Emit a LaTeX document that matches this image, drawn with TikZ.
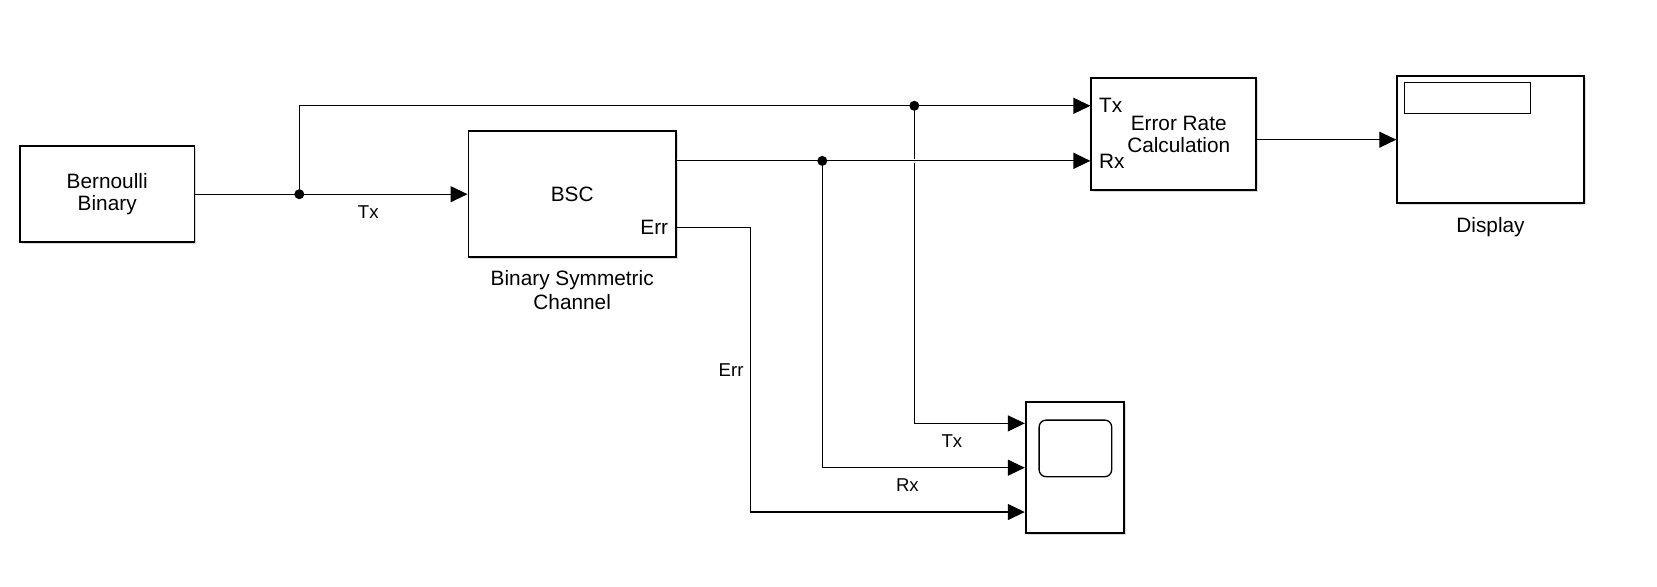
\documentclass[tikz,border=0pt]{standalone}
\usepackage{fontspec}
\setmainfont{Liberation Sans}
\usetikzlibrary{arrows.meta,calc,shadows}
\tikzset{
  blk/.style={draw,line width=0.9pt,fill=white,inner sep=0pt,
    drop shadow={shadow xshift=1pt,shadow yshift=-1pt,opacity=0.3}},
  sig/.style={line width=0.6pt,-{Triangle[length=8.5pt,width=8pt]}},
  wire/.style={line width=0.6pt},
  jdot/.style={circle,fill,inner sep=0pt,minimum size=5pt},
  port/.style={inner sep=0pt},
  lbl/.style={font=\fontsize{9.3}{11}\selectfont},
  gap/.style={draw=white,line width=2pt}
}
\begin{document}
\begin{tikzpicture}[x=0.5pt,y=-0.5pt,font=\fontsize{10.4}{11}\selectfont]
  \useasboundingbox (0,0) rectangle (1657,587);

  % blocks
  \node[blk,minimum width=87.2pt,minimum height=48.1pt,align=center] (bern) at (107.2,194.2) {Bernoulli\\Binary};
  \node[blk,minimum width=103.8pt,minimum height=63.2pt] (bsc) at (572.2,194.2) {BSC};
  \node[blk,minimum width=82.2pt,minimum height=55.9pt] (err) at (1173.5,134.2) {};
  \node[blk,minimum width=93.3pt,minimum height=63.6pt] (disp) at (1490.5,139.7) {};
  \node[blk,minimum width=49.3pt,minimum height=65.6pt] (scope) at (1075,467.7) {};
  \node[draw,line width=0.5pt,minimum width=63pt,minimum height=15.5pt] (num) at (1467.4,97.8) {};
  \node[draw,line width=0.65pt,rounded corners=3.5pt,minimum width=36.3pt,minimum height=28.3pt] (scr) at (1075.4,448.4) {};

  \node[align=center] at ([xshift=2.6pt]err.center) {Error Rate\\Calculation};
  \node[align=center,anchor=north,font=\fontsize{10.4}{12}\selectfont] at ([yshift=-2.7pt]bsc.south) {Binary Symmetric\\Channel};
  \node[anchor=north] at ([yshift=-3pt]disp.south) {Display};

  % ports
  \coordinate (bsc-out) at ($(bsc.north east)!0.24!(bsc.south east)$);
  \coordinate (bsc-err) at ($(bsc.north east)!0.76!(bsc.south east)$);
  \coordinate (err-tx) at ($(err.north west)!0.25!(err.south west)$);
  \coordinate (err-rx) at (err.west |- bsc-out);
  \foreach \i/\f in {1/0.1667,2/0.5,3/0.8333}
    \coordinate (sc-\i) at ($(scope.north west)!\f!(scope.south west)$);

  \node[port,anchor=west] at ([xshift=4.2pt]err-tx) {Tx};
  \node[port,anchor=west] at ([xshift=4.2pt]err-rx) {Rx};
  \node[port,anchor=east] at ([xshift=-4.2pt]bsc-err) {Err};

  % branch points
  \coordinate (j1) at (299.3,0 |- bern.east);
  \coordinate (j2) at (914.3,0 |- err-tx);
  \coordinate (j3) at (822.3,0 |- bsc-out);
  \coordinate (e1) at (750.7,0 |- bsc-err);

  % signals
  \draw[wire] (bern.east) -- (j1);
  \draw[sig] (j1) -- node[lbl,below=2pt,pos=.41]{Tx} (bsc.west);
  \draw[sig] (j1) |- (err-tx);
  \draw[sig] (j2) |- node[lbl,below=2pt,pos=.67]{Tx} (sc-1);
  \draw[gap] (bsc-out) -- ([xshift=-9pt]err-rx);
  \draw[sig] (bsc-out) -- (err-rx);
  \draw[sig] (j3) |- node[lbl,below=2pt,pos=.71]{Rx} (sc-2);
  \draw[sig] (bsc-err) -- (e1) |- node[lbl,left,pos=.25]{Err} (sc-3);
  \draw[sig] (err.east |- disp.west) -- (disp.west);
  \foreach \j in {j1,j2,j3} \node[jdot] at (\j) {};
\end{tikzpicture}
\end{document}
